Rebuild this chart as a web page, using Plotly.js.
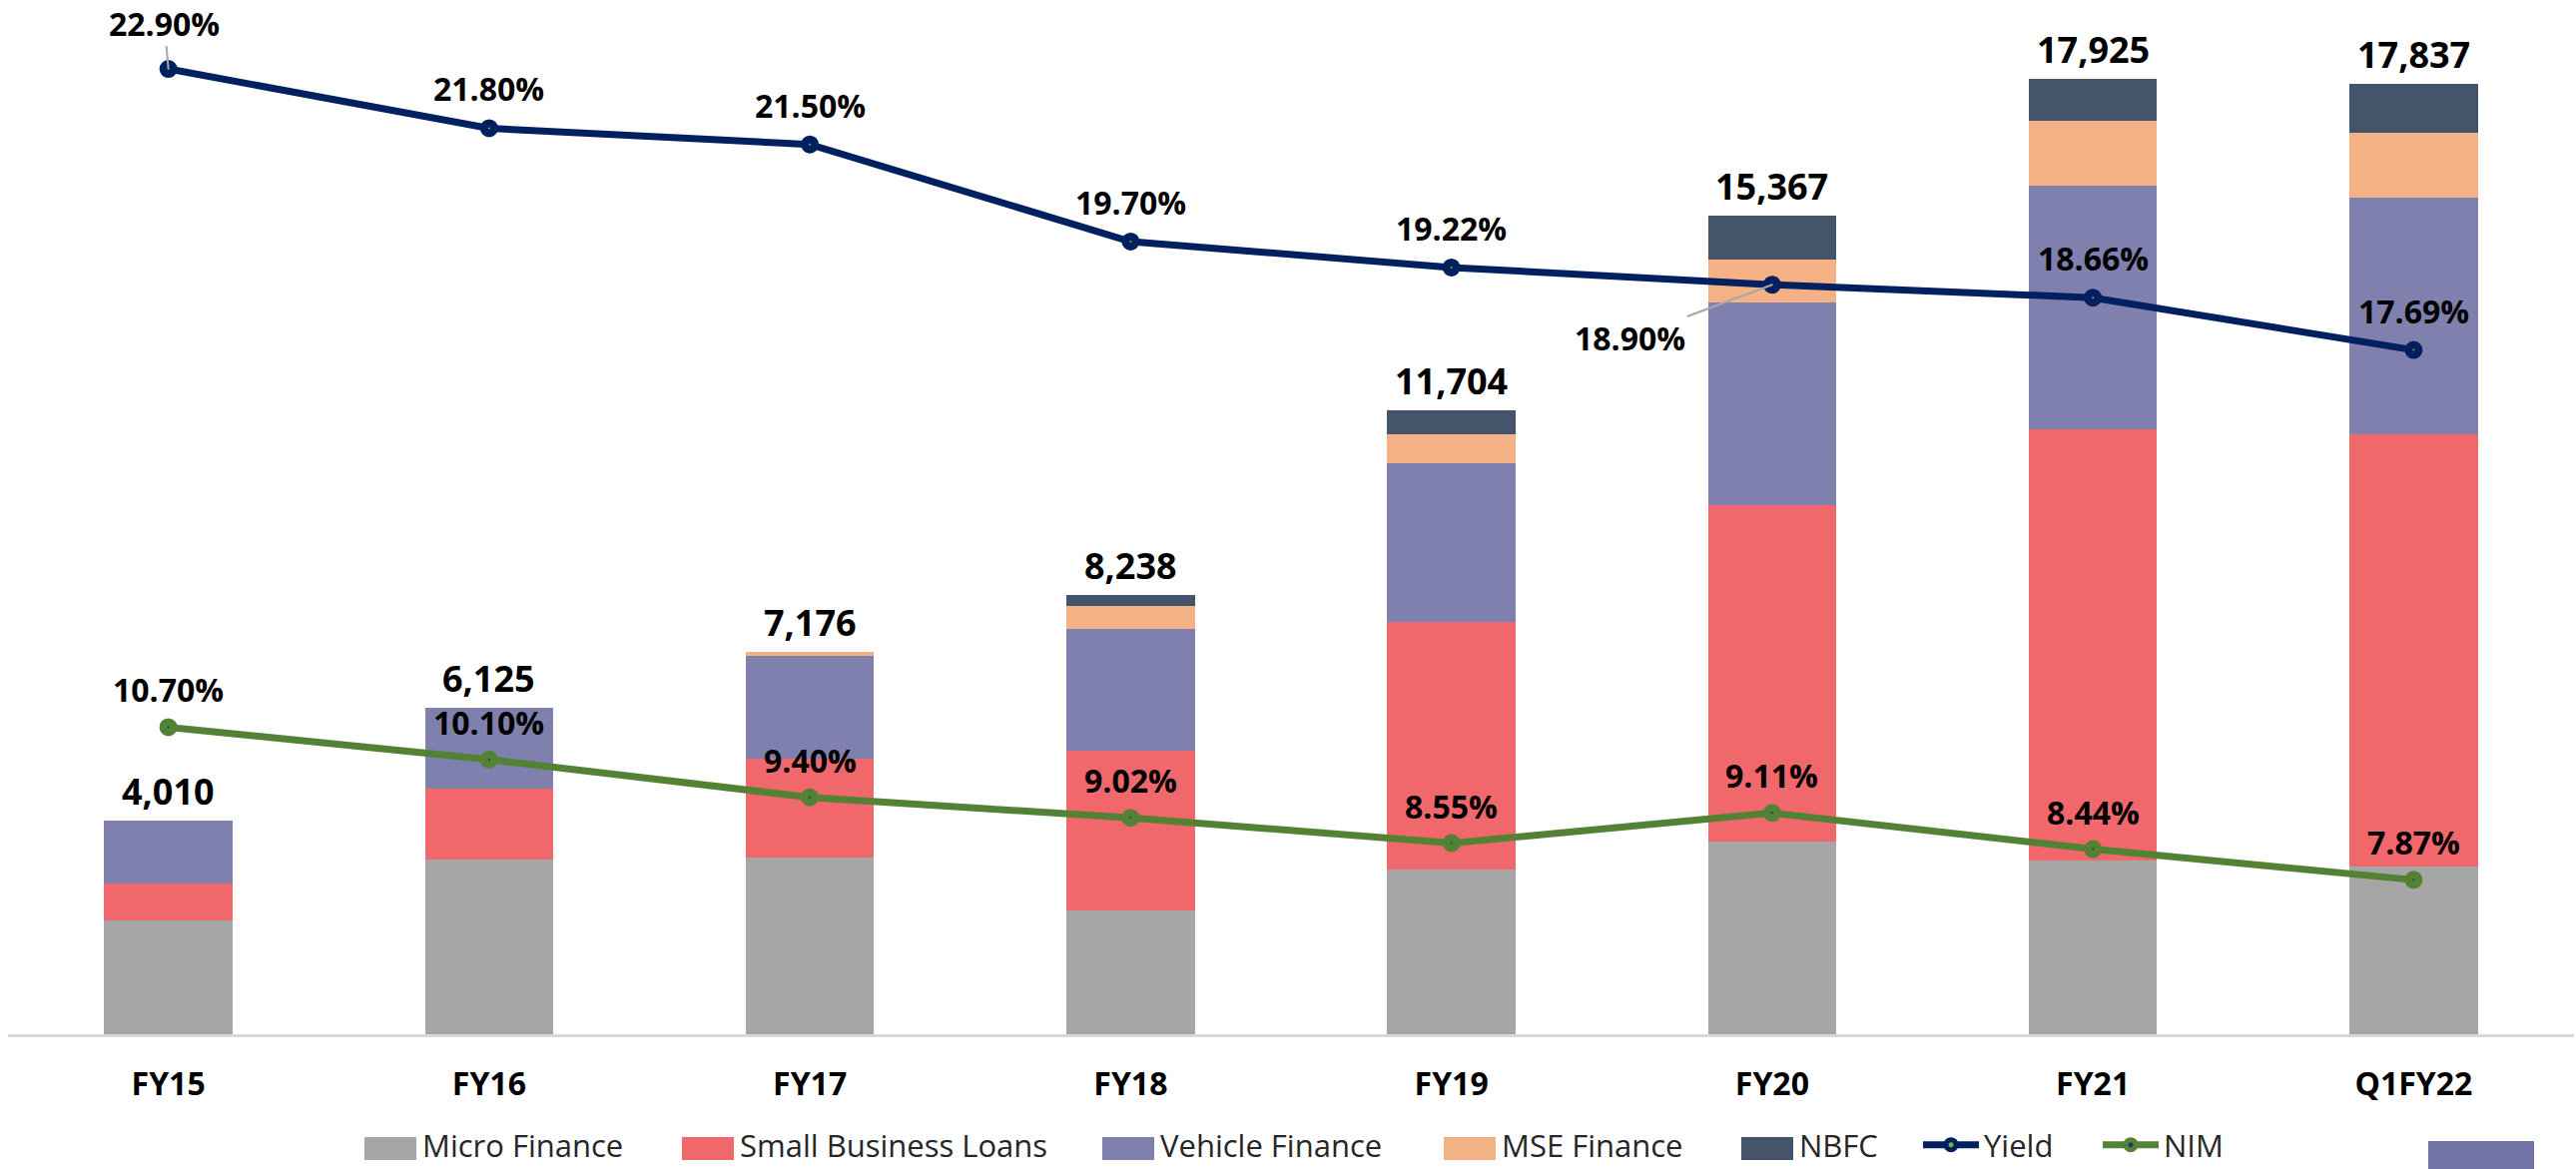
<!DOCTYPE html>
<html>
<head>
<meta charset="utf-8">
<script src="https://cdn.plot.ly/plotly-3.0.1.min.js"></script>
<style>html,body{margin:0;padding:0;background:#fff;}#chart{width:2580px;height:1171px;}</style>
</head>
<body>
<div id="chart"></div>
<script>
const categories = ['FY15','FY16','FY17','FY18','FY19','FY20','FY21','Q1FY22'];
const microFinance = [2135, 3275, 3320, 2320, 3087, 3606, 3260, 3138];
const smallBusinessLoans = [690, 1338, 1850, 2993, 4648, 6328, 8090, 8121];
const vehicleFinance = [1185, 1512, 1930, 2300, 2981, 3789, 4579, 4429];
const mseFinance = [0, 0, 76, 419, 537, 818, 1206, 1224];
const nbfc = [0, 0, 0, 206, 451, 826, 790, 925];
const totals = [4010, 6125, 7176, 8238, 11704, 15367, 17925, 17837];
const yieldPct = [22.90, 21.80, 21.50, 19.70, 19.22, 18.90, 18.66, 17.69];
const nimPct = [10.70, 10.10, 9.40, 9.02, 8.55, 9.11, 8.44, 7.87];

const FONT = 'Open Sans, Noto Sans, sans-serif';

// layout geometry (pixels)
const W = 2580, H = 1171, ML = 8, MR = 2, MT = 20, MB = 135;
const PW = W - ML - MR, PH = H - MT - MB;
const px2x = p => (p - ML) / PW;
const px2y = p => (H - MB - p) / PH;

// legend text start positions (pixels) per entry
const legendTextX = [425, 743, 1164, 1506, 1804, 1989, 2169];
const legendYc = 1147;
const swatchTop = 1139, swatchBottom = 1162;

const colors = ['#a6a6a6', '#f0676c', '#8080ae', '#f4b185', '#44546a'];
const barNames = ['Micro Finance', 'Small Business Loans', 'Vehicle Finance', 'MSE Finance', 'NBFC'];
const barVals = [microFinance, smallBusinessLoans, vehicleFinance, mseFinance, nbfc];

const legendKey = i => (i === 0 ? 'legend' : 'legend' + (i + 1));

const traces = barNames.map((n, i) => ({
  type: 'bar', name: n, x: categories, y: barVals[i], legend: legendKey(i),
  marker: {color: colors[i], line: {width: 0}}, hoverinfo: 'skip'
}));
traces.push(
  {type: 'scatter', mode: 'lines+markers', name: 'Yield', x: categories, y: yieldPct, yaxis: 'y2', legend: legendKey(5),
   line: {color: '#002060', width: 7},
   marker: {symbol: 'circle', size: 10, color: '#7fb03f', line: {color: '#002060', width: 8}}},
  {type: 'scatter', mode: 'lines+markers', name: 'NIM', x: categories, y: nimPct, yaxis: 'y2', legend: legendKey(6),
   line: {color: '#548235', width: 7},
   marker: {symbol: 'circle', size: 10, color: '#1f3864', line: {color: '#548235', width: 8}}}
);

const labelFont = {family: FONT, size: 32, color: '#000000', weight: 700};
const annotations = [];
categories.forEach((c, i) => {
  annotations.push({x: c, y: totals[i], xref: 'x', yref: 'y', text: totals[i].toLocaleString('en-US'),
    showarrow: false, yanchor: 'bottom', yshift: 3, font: {family: FONT, size: 36, color: '#000000', weight: 700}});
  if (i === 5) {
    annotations.push({x: c, y: yieldPct[i], xref: 'x', yref: 'y2', text: yieldPct[i].toFixed(2) + '%',
      showarrow: true, arrowhead: 0, arrowwidth: 2, arrowcolor: '#a6a6a6', ax: -142, ay: 53, font: labelFont});
  } else if (i === 0) {
    annotations.push({x: c, y: yieldPct[i], xref: 'x', yref: 'y2', text: yieldPct[i].toFixed(2) + '%',
      showarrow: true, arrowhead: 0, arrowwidth: 2, arrowcolor: '#a6a6a6', ax: -4, ay: -46, font: labelFont});
  } else {
    annotations.push({x: c, y: yieldPct[i], xref: 'x', yref: 'y2', text: yieldPct[i].toFixed(2) + '%',
      showarrow: false, yanchor: 'bottom', yshift: 16, font: labelFont});
  }
  annotations.push({x: c, y: nimPct[i], xref: 'x', yref: 'y2', text: nimPct[i].toFixed(2) + '%',
    showarrow: false, yanchor: 'bottom', yshift: 14, font: labelFont});
});

const layout = {
  width: W, height: H,
  margin: {l: ML, r: MR, t: MT, b: MB, autoexpand: false},
  paper_bgcolor: '#ffffff', plot_bgcolor: '#ffffff',
  barmode: 'stack', bargap: 0.6,
  showlegend: true,
  xaxis: {type: 'category', showline: true, linecolor: '#d9d9d9', linewidth: 3,
    ticks: 'outside', ticklen: 20, tickcolor: 'rgba(0,0,0,0)', showgrid: false, zeroline: false,
    tickfont: {family: FONT, size: 32, color: '#000000', weight: 700}},
  yaxis: {range: [0, 19030], visible: false, showgrid: false, zeroline: false},
  yaxis2: {range: [5.009, 23.807], overlaying: 'y', side: 'right', visible: false, showgrid: false, zeroline: false},
  annotations: annotations,
  shapes: [{type: 'rect', xref: 'paper', yref: 'paper', x0: px2x(2432), x1: px2x(2538), y0: px2y(1175), y1: px2y(1143),
    fillcolor: '#7473a8', line: {width: 0}, layer: 'above'}]
};

// one legend per entry so each entry sits where the reference puts it
legendTextX.forEach((tx, i) => {
  layout[legendKey(i)] = {orientation: 'h', x: px2x(tx - 68), xanchor: 'left', y: px2y(legendYc), yanchor: 'middle',
    itemwidth: 56, bgcolor: 'rgba(0,0,0,0)', font: {family: FONT, size: 31, color: '#262626'}};
  if (i < 5) {
    layout.shapes.push({type: 'rect', xref: 'paper', yref: 'paper', x0: px2x(tx - 60), x1: px2x(tx - 8),
      y0: px2y(swatchBottom), y1: px2y(swatchTop), fillcolor: colors[i], line: {width: 0}, layer: 'above'});
  }
});

Plotly.newPlot('chart', traces, layout, {staticPlot: true});
</script>
</body>
</html>
